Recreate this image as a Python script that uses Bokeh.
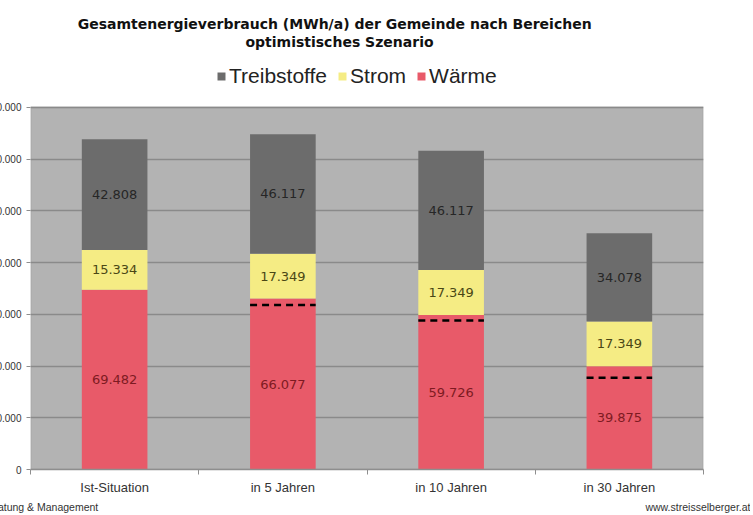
from bokeh.plotting import figure
from bokeh.models import (ColumnDataSource, Legend, LegendItem, FixedTicker, LinearAxis,
                          Range1d, CustomJSTickFormatter, Label, BoxAnnotation)
from bokeh.core.properties import value
from bokeh.embed import file_html
from bokeh.resources import INLINE

# ---------------- data ----------------
categories = ["Ist-Situation", "in 5 Jahren", "in 10 Jahren", "in 30 Jahren"]
waerme = [69482, 66077, 59726, 39875]
strom = [15334, 17349, 17349, 17349]
treibstoffe = [42808, 46117, 46117, 34078]
dash_categories = ["in 5 Jahren", "in 10 Jahren", "in 30 Jahren"]
dash_values = [63600, 57600, 35500]
y_ticks = [0, 20000, 40000, 60000, 80000, 100000, 120000, 140000]
series_names = ["Wärme", "Strom", "Treibstoffe"]
title_line1 = "Gesamtenergieverbrauch  (MWh/a) der Gemeinde  nach Bereichen"
title_line2 = "optimistisches Szenario"
footer_texts = ["Beratung & Management", "www.streisselberger.at"]
footer_pos = [0.014, 0.995]   # fraction of plot width where each footer is centred

# ---------------- styles / geometry ----------------
RED = "#E85A69"
YELLOW = "#F5EC84"
GREY = "#6C6C6C"
AREA = "#B3B3B3"
EDGE = "#8E8E8E"
LAB_COLORS = ["#7E1A22", "#4A4715", "#262626"]
BAR_W = 0.39

W, H = 780, 507
BORDER_L, BORDER_R, BORDER_B = 60, 47, 45
FRAME_W = W - BORDER_L - BORDER_R          # 673
FRAME_H = H - BORDER_B                      # 462 (frame reaches the top)
PAGE_X0, PAGE_Y0 = -30, 8                   # where the canvas sits on the page
AREA_PX = 363                               # height of the grey plot area
Y_MAX = y_ticks[-1]
Y_TOP = Y_MAX * FRAME_H / AREA_PX
N = len(categories)


def dx(page_x):
    return (page_x - PAGE_X0 - BORDER_L) / FRAME_W * N


def dy(page_y):
    return (PAGE_Y0 + FRAME_H - page_y) / AREA_PX * Y_MAX


xpos = [i + 0.5 for i in range(N)]
cat_index = {c: i for i, c in enumerate(categories)}

p = figure(x_range=Range1d(0, N), y_range=Range1d(0, Y_TOP),
           width=W, height=H,
           output_backend="svg", toolbar_location=None,
           min_border_left=BORDER_L, min_border_right=BORDER_R,
           min_border_top=0, min_border_bottom=BORDER_B)
p.title_location = None
p.styles = {"position": "absolute", "left": f"{PAGE_X0}px", "top": f"{PAGE_Y0}px"}

p.background_fill_color = "white"
p.border_fill_color = "white"
p.outline_line_color = None

# grey plot area
p.add_layout(BoxAnnotation(bottom=0, top=Y_MAX, fill_color=AREA, fill_alpha=1,
                           line_color=EDGE, line_width=2, level="image"))

src = ColumnDataSource(dict(x=xpos, w=waerme, s=strom, t=treibstoffe))
rs = p.vbar_stack(["w", "s", "t"], x="x", width=BAR_W, source=src,
                  fill_color=[RED, YELLOW, GREY], line_color=None)

# value labels
lx, ly, lt, lc = [], [], [], []
for i in range(N):
    base = 0
    for j, arr in enumerate([waerme, strom, treibstoffe]):
        v = arr[i]
        lx.append(xpos[i])
        ly.append(base + v / 2)
        lt.append(f"{v:,}".replace(",", "."))
        lc.append(LAB_COLORS[j])
        base += v
lab_src = ColumnDataSource(dict(x=lx, y=ly, text=lt, color=lc))
p.text(x="x", y="y", text="text", text_color="color", source=lab_src,
       text_align="center", text_baseline="middle",
       text_font=value("DejaVu Sans"), text_font_size="13px")

# dashed markers
dxs = [xpos[cat_index[c]] for c in dash_categories]
dash_src = ColumnDataSource(dict(x0=[x - BAR_W / 2 for x in dxs], x1=[x + BAR_W / 2 for x in dxs],
                                 v=dash_values))
p.segment(x0="x0", x1="x1", y0="v", y1="v", source=dash_src,
          line_color="black", line_width=2.5, line_dash="7 5")

# grid
p.xgrid.grid_line_color = None
p.ygrid.grid_line_color = "#8A8A8A"
p.ygrid.grid_line_width = 1.5
p.ygrid.ticker = FixedTicker(ticks=y_ticks)

# y axis
p.yaxis.ticker = FixedTicker(ticks=y_ticks)
p.yaxis.formatter = CustomJSTickFormatter(
    code="return tick.toString().replace(/\\B(?=(\\d{3})+(?!\\d))/g, '.')")
p.yaxis.major_label_text_font = "Liberation Sans"
p.yaxis.major_label_text_font_size = "10px"
p.yaxis.major_label_text_color = "#333333"
p.yaxis.major_tick_out = 4
p.yaxis.major_tick_in = 0
p.yaxis.minor_tick_line_color = None
p.yaxis.major_tick_line_color = EDGE
p.yaxis.axis_line_color = None
p.yaxis.major_label_standoff = 5

# x axis: category names at slot centres, tick marks at slot boundaries
p.xaxis.ticker = FixedTicker(ticks=xpos, minor_ticks=list(range(N + 1)))
p.xaxis.formatter = CustomJSTickFormatter(args=dict(labels=categories),
                                          code="return labels[index]")
p.xaxis.major_tick_line_color = None
p.xaxis.major_tick_out = 0
p.xaxis.major_tick_in = 0
p.xaxis.minor_tick_line_color = EDGE
p.xaxis.minor_tick_out = 5
p.xaxis.minor_tick_in = 0
p.xaxis.major_label_standoff = 5
p.xaxis.axis_line_color = EDGE
p.xaxis.axis_line_width = 1.5
p.xaxis.major_label_text_font = "Liberation Sans"
p.xaxis.major_label_text_font_size = "13px"
p.xaxis.major_label_text_color = "#333333"

# footer line (slide footer) as an extra axis below
p.extra_x_ranges = {"foot": Range1d(0, 1)}
foot_axis = LinearAxis(x_range_name="foot", ticker=FixedTicker(ticks=footer_pos),
                       formatter=CustomJSTickFormatter(args=dict(labels=footer_texts),
                                                       code="return labels[index]"),
                       axis_line_color=None, major_tick_line_color=None,
                       minor_tick_line_color=None, major_tick_out=0, major_tick_in=0,
                       major_label_standoff=3,
                       major_label_text_font="Liberation Sans",
                       major_label_text_font_size="10.5px",
                       major_label_text_color="#333333")
p.add_layout(foot_axis, "below")

# legend (inside the tall frame, above the grey area)
legend = Legend(items=[LegendItem(label=series_names[2], renderers=[rs[2]]),
                       LegendItem(label=series_names[1], renderers=[rs[1]]),
                       LegendItem(label=series_names[0], renderers=[rs[0]])],
                orientation="horizontal",
                location=(216 - PAGE_X0 - BORDER_L, PAGE_Y0 + FRAME_H - 89),
                glyph_width=10, glyph_height=10, label_standoff=3, spacing=10,
                padding=0, margin=0, border_line_color=None,
                background_fill_alpha=0,
                label_text_font="Liberation Sans", label_text_font_size="21px",
                label_text_color="#222222")
p.add_layout(legend, "center")

# titles
for txt, py in [(title_line1, 24), (title_line2, 42)]:
    p.add_layout(Label(x=dx(339), y=dy(py), text=txt,
                       text_align="center", text_baseline="middle",
                       text_font="DejaVu Sans", text_font_style="bold",
                       text_font_size="14px", text_color="#111111"))

open("out.html", "w").write(file_html(p, INLINE))
